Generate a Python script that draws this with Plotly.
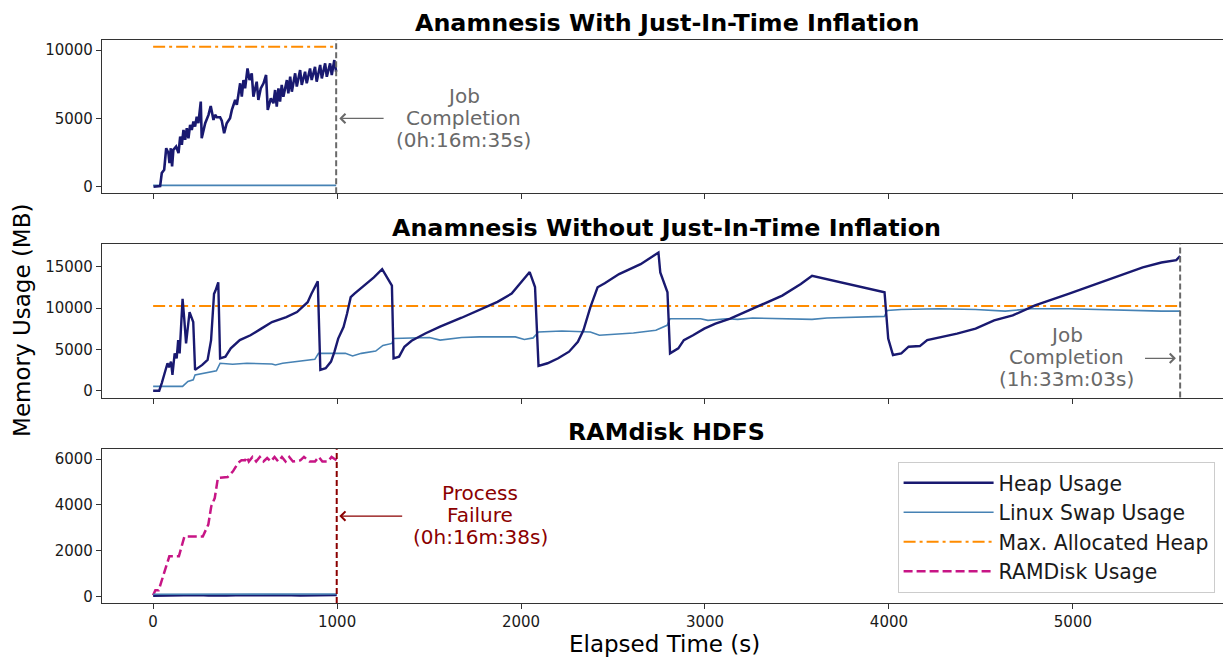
import plotly.graph_objects as go

# ---------------- data ----------------
# Panel 1: Anamnesis with JIT inflation
p1_heap_t = [2, 38, 47, 60, 71, 83, 89, 96, 103, 110, 125, 138, 147, 156, 165, 174, 183, 192, 201, 210,
             219, 228, 237, 246, 259, 264, 283, 301, 313, 328, 337, 346, 364, 373, 386, 400, 418, 428,
             446, 455, 473, 482, 491, 500, 513, 524, 536, 545, 563, 572, 585, 600, 614, 623, 640, 654,
             663, 672, 681, 690, 699, 708, 727, 735, 745, 754, 772, 781, 799, 808, 826, 835, 853, 862,
             880, 889, 908, 917, 935, 944, 962, 971, 985, 995]
p1_heap_v = [0, 50, 1000, 1240, 2820, 2460, 1730, 2820, 1480, 2700, 2940, 2460, 3670, 3070, 4160, 3430,
             4280, 3550, 4530, 4160, 4770, 4400, 5130, 4650, 6230, 3550, 4650, 5260, 5910, 4890, 5260,
             5090, 5090, 4840, 3920, 4650, 5010, 5620, 6350, 5990, 7570, 6590, 7810, 7200, 8660, 7810,
             8300, 6590, 7690, 6350, 7200, 7570, 8180, 5620, 6470, 6110, 7080, 5860, 7200, 6230, 7450,
             6590, 7810, 6840, 8050, 6960, 8300, 7330, 8540, 7450, 8420, 7570, 8660, 7810, 8780, 7690,
             8910, 7930, 9030, 8050, 9030, 8180, 9270, 8420]
p1_swap_t = [0, 200, 400, 600, 800, 995]
p1_swap_v = [100, 100, 100, 100, 100, 100]
p1_max_t = [0, 995]
p1_max_v = [10240, 10240]
p1_end = 995

# Panel 2: Anamnesis without JIT inflation
p2_heap_t = [0, 33, 47, 62, 78, 86, 97, 105, 117, 128, 136, 144, 152, 160, 169, 175, 179, 198, 218, 228,
             267, 296, 315, 331, 339, 354, 364, 393, 422, 471, 529, 588, 646, 724, 782, 811, 840, 860,
             879, 895, 909, 938, 967, 986, 1006, 1035, 1054, 1074, 1093, 1152, 1200, 1245, 1298, 1307,
             1337, 1366, 1405, 1482, 1560, 1677, 1774, 1872, 1949, 1988, 2047, 2076, 2095, 2144, 2202,
             2261, 2309, 2339, 2377, 2416, 2455, 2533, 2650, 2747, 2757, 2796, 2810, 2855, 2885, 2935,
             2996, 3057, 3137, 3238, 3319, 3420, 3521, 3582, 3976, 3996, 4022, 4067, 4107, 4168, 4208,
             4370, 4471, 4572, 4673, 4794, 4976, 5178, 5380, 5481, 5562, 5583]
p2_heap_v = [0, 0, 920, 2120, 3320, 2840, 3520, 1920, 4520, 3920, 6120, 4520, 7910, 11110, 8710, 5720,
             5720, 9510, 8310, 2520, 3120, 3720, 6120, 11710, 12110, 13110, 3920, 4120, 5120, 6120, 6710,
             7510, 8310, 8910, 9510, 10110, 10710, 11710, 12510, 13230, 2520, 2720, 3520, 4720, 6310,
             7710, 9310, 11310, 11710, 12790, 13710, 14710, 12710, 3920, 4120, 5320, 6040, 6950, 7750,
             8830, 9750, 10750, 11750, 12750, 14350, 12550, 3000, 3320, 3920, 4720, 5920, 7310, 10110,
             12510, 12990, 14110, 15310, 16710, 14310, 11910, 4520, 5120, 6120, 6710, 7510, 8110, 8710,
             9710, 10510, 11510, 12910, 13910, 11910, 6310, 4320, 4520, 5320, 5400, 6120, 6910, 7510,
             8510, 9110, 10310, 11710, 13310, 14910, 15510, 15790, 16300]
p2_swap_t = [0, 160, 189, 218, 228, 344, 364, 432, 510, 646, 665, 704, 879, 899, 1045, 1084, 1132, 1210,
             1249, 1298, 1307, 1502, 1560, 1677, 1774, 1969, 2018, 2066, 2095, 2222, 2377, 2426, 2611,
             2733, 2794, 2810, 2976, 3016, 3117, 3178, 3259, 3501, 3582, 3663, 3976, 3990, 4067, 4269,
             4471, 4632, 4774, 4976, 5279, 5481, 5583]
p2_swap_v = [520, 520, 1120, 1320, 1920, 2400, 3320, 3200, 3320, 3240, 3120, 3320, 3800, 4520, 4520,
             4200, 4520, 4800, 5480, 5720, 6310, 6430, 6120, 6430, 6510, 6510, 6200, 6390, 7110, 7230,
             7110, 6710, 6990, 7310, 7910, 8710, 8710, 8510, 8710, 8630, 8790, 8710, 8630, 8790, 8990,
             9710, 9830, 9910, 9830, 9630, 9910, 9910, 9710, 9630, 9630]
p2_max_t = [0, 5583]
p2_max_v = [10240, 10240]
p2_end = 5583

# Panel 3: RAMdisk HDFS
p3_ram_t = [0, 12, 30, 60, 88, 140, 170, 270, 300, 316, 335, 352, 405, 434, 462, 480, 500, 510, 520, 540,
            560, 580, 600, 620, 640, 660, 680, 700, 720, 740, 760, 800, 820, 850, 880, 900, 920, 950,
            970, 998]
p3_ram_v = [40, 260, 260, 1020, 1750, 1750, 2620, 2620, 3140, 3940, 4300, 5180, 5220, 5470, 5840, 5950,
            5950, 6100, 5900, 6100, 5900, 6100, 5900, 6050, 5900, 6100, 5900, 6100, 5900, 6100, 5900,
            5950, 6100, 5900, 5900, 6100, 5900, 5900, 6100, 5950]
p3_heap_t = [0, 50, 100, 150, 200, 250, 300, 350, 400, 450, 500, 550, 600, 650, 700, 750, 800, 850, 900,
             950, 998]
p3_heap_v = [20, 30, 40, 20, 30, 50, 30, 20, 30, 40, 30, 30, 40, 50, 60, 40, 30, 30, 40, 60, 50]
p3_swap_t = [0, 200, 400, 600, 800, 998]
p3_swap_v = [90, 90, 95, 95, 100, 100]
p3_end = 998

titles = ["Anamnesis With Just-In-Time Inflation",
          "Anamnesis Without Just-In-Time Inflation",
          "RAMdisk HDFS"]
p1_note = ["Job", "Completion", "(0h:16m:35s)"]
p2_note = ["Job", "Completion", "(1h:33m:03s)"]
p3_note = ["Process", "Failure", "(0h:16m:38s)"]

# ---------------- styling ----------------
HEAP = "#191970"
SWAP = "#4682b4"
MAXC = "#ff8c00"
RAMC = "#c71585"
GRAY = "#696969"
DRED = "#8b0000"
FONT = "DejaVu Sans"

fig = go.Figure()

def add(t, v, ax, name, color, width, dash="solid", show=False):
    fig.add_trace(go.Scatter(
        x=t, y=v, mode="lines", name=name, showlegend=show,
        xaxis="x" if ax == 1 else f"x{ax}", yaxis="y" if ax == 1 else f"y{ax}",
        line=dict(color=color, width=width, dash=dash),
    ))

DASHDOT = "12px,4px,3px,4px"
DASHED = "9px,4px"

add(p1_max_t, p1_max_v, 1, "Max. Allocated Heap", MAXC, 2, DASHDOT)
add(p1_swap_t, p1_swap_v, 1, "Linux Swap Usage", SWAP, 1.6)
add(p1_heap_t, p1_heap_v, 1, "Heap Usage", HEAP, 2.6)

add(p2_max_t, p2_max_v, 2, "Max. Allocated Heap", MAXC, 2, DASHDOT)
add(p2_swap_t, p2_swap_v, 2, "Linux Swap Usage", SWAP, 1.6)
add(p2_heap_t, p2_heap_v, 2, "Heap Usage", HEAP, 2.4)

add(p3_ram_t, p3_ram_v, 3, "RAMDisk Usage", RAMC, 2.5, DASHED)
add(p3_heap_t, p3_heap_v, 3, "Heap Usage", HEAP, 2.4)
add(p3_swap_t, p3_swap_v, 3, "Linux Swap Usage", SWAP, 1.6)

# legend-only entries in required order
for name, color, width, dash in [("Heap Usage", HEAP, 2.4, "solid"),
                                 ("Linux Swap Usage", SWAP, 1.6, "solid"),
                                 ("Max. Allocated Heap", MAXC, 2, DASHDOT),
                                 ("RAMDisk Usage", RAMC, 2.5, DASHED)]:
    fig.add_trace(go.Scatter(x=[None], y=[None], mode="lines", name=name, showlegend=True,
                             xaxis="x3", yaxis="y3",
                             line=dict(color=color, width=width, dash=dash)))

# vertical end lines
for ax, xe, col in [(1, p1_end, GRAY), (2, p2_end, GRAY), (3, p3_end, DRED)]:
    xr = "x" if ax == 1 else f"x{ax}"
    yr = "y domain" if ax == 1 else f"y{ax} domain"
    fig.add_shape(type="line", xref=xr, yref=yr, x0=xe, x1=xe, y0=0, y1=1,
                  line=dict(color=col, width=2, dash="6px,3px"))

# notes (text blocks + arrows)
def note(ax, lines, tx, ty, color, x_tip, x_tail, y_arrow):
    xr = "x" if ax == 1 else f"x{ax}"
    yr = "y" if ax == 1 else f"y{ax}"
    for i, s in enumerate(lines):
        fig.add_annotation(xref=xr, yref=yr, x=tx, y=ty, text=s, showarrow=False,
                           yshift=(1 - i) * 22, font=dict(family=FONT, size=20, color=color),
                           xanchor="center", yanchor="middle")
    fig.add_annotation(xref=xr, yref=yr, x=x_tip, y=y_arrow, ax=x_tail, ay=y_arrow,
                       axref=xr, ayref=yr, text="", showarrow=True,
                       arrowhead=4, arrowsize=1.4, arrowwidth=1.3, arrowcolor=color)

note(1, p1_note, 1685, 5000, GRAY, 1012, 1261, 5000)
note(2, p2_note, 4967, 4040, GRAY, 5560, 5384, 3920)
note(3, p3_note, 1778, 3550, DRED, 1012, 1362, 3510)

# titles
for yp, s in [(1.0305, titles[0]), (0.6660, titles[1]), (0.3045, titles[2])]:
    fig.add_annotation(xref="paper", yref="paper", x=0.5036, y=yp, text=f"<b>{s}</b>",
                       showarrow=False, font=dict(family=FONT, size=23.8, color="black"),
                       xanchor="center", yanchor="middle")

fig.add_annotation(xref="paper", yref="paper", x=-0.0714, y=0.5027, text="Memory Usage (MB)",
                   textangle=-90, showarrow=False, font=dict(family=FONT, size=23, color="black"),
                   xanchor="center", yanchor="middle")
fig.add_annotation(xref="paper", yref="paper", x=0.502, y=-0.0728, text="Elapsed Time (s)",
                   showarrow=False, font=dict(family=FONT, size=23, color="black"),
                   xanchor="center", yanchor="middle")

XR = [-278, 5816]
tickfont = dict(family=FONT, size=15, color="#1a1a1a")
xcommon = dict(range=XR, showline=True, linecolor="#333", linewidth=1.3, mirror=True,
               ticks="outside", ticklen=5, tickcolor="#333", tickvals=[0, 1000, 2000, 3000, 4000, 5000],
               tickformat="d", showgrid=False, zeroline=False, tickfont=tickfont)
ycommon = dict(showline=True, linecolor="#333", linewidth=1.3, mirror=False, tickformat="d",
               ticks="outside", ticklen=5, tickcolor="#333", showgrid=False, zeroline=False,
               tickfont=tickfont)

fig.update_layout(
    width=1223, height=660,
    margin=dict(l=102, r=0, t=40, b=57),
    plot_bgcolor="white", paper_bgcolor="white",
    font=dict(family=FONT),
    xaxis=dict(**xcommon, anchor="y", showticklabels=False),
    xaxis2=dict(**xcommon, anchor="y2", matches="x", showticklabels=False),
    xaxis3=dict(**xcommon, anchor="y3", matches="x", showticklabels=True),
    yaxis=dict(**ycommon, domain=[0.7277, 1.0], range=[-480, 10740], tickvals=[0, 5000, 10000]),
    yaxis2=dict(**ycommon, domain=[0.3648, 0.6371], range=[-835, 17710],
                tickvals=[0, 5000, 10000, 15000]),
    yaxis3=dict(**ycommon, domain=[0.0, 0.2730], range=[-294, 6434],
                tickvals=[0, 2000, 4000, 6000]),
    legend=dict(x=0.9925, xanchor="right", y=0.2504, yanchor="top",
                bgcolor="white", bordercolor="#cccccc", borderwidth=1,
                font=dict(family=FONT, size=20.4, color="#1a1a1a"),
                itemwidth=90, tracegroupgap=0),
    showlegend=True,
)

fig.write_html("out.html")
